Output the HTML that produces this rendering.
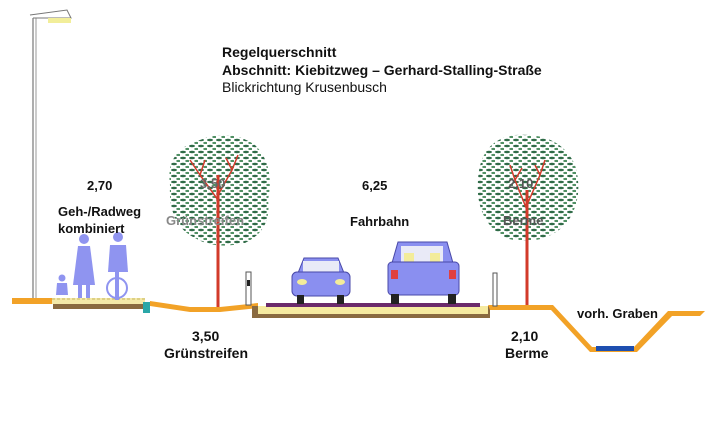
<!DOCTYPE html>
<html><head><meta charset="utf-8"><style>
html,body{margin:0;padding:0;background:#fff;width:720px;height:431px;overflow:hidden}
svg{display:block}
text{font-family:"Liberation Sans",Arial,sans-serif}
</style></head><body>
<svg width="720" height="431" viewBox="0 0 720 431" xmlns="http://www.w3.org/2000/svg">
<defs>
<pattern id="lv" width="9" height="6" patternUnits="userSpaceOnUse">
<rect x="0" y="0" width="9" height="6" fill="#fff"/>
<ellipse cx="3" cy="2" rx="3" ry="1.3" fill="#2f6b47"/>
<ellipse cx="7.5" cy="5" rx="2.3" ry="1.1" fill="#4e8f62"/>
</pattern>
</defs>
<!-- lamp -->
<line x1="33" y1="18" x2="33" y2="298" stroke="#777" stroke-width="1.2"/>
<line x1="36" y1="18" x2="36" y2="298" stroke="#999" stroke-width="1"/>
<polyline points="30,15 67,10 71,18 33,18" fill="none" stroke="#777" stroke-width="1"/>
<rect x="48" y="18" width="23" height="5" fill="#f2ee9a"/>
<!-- titles -->
<text x="222" y="57" font-size="14" font-weight="bold" fill="#111">Regelquerschnitt</text>
<text x="222" y="75" font-size="14" font-weight="bold" fill="#111">Abschnitt: Kiebitzweg – Gerhard-Stalling-Straße</text>
<text x="222" y="92" font-size="14" fill="#111">Blickrichtung Krusenbusch</text>
<!-- trees -->
<path d="M170 185 Q165 150 200 140 Q230 128 255 145 Q275 165 268 200 Q272 230 245 243 Q215 250 195 238 Q168 225 170 185 Z" fill="url(#lv)"/>
<path d="M478 180 Q480 140 515 135 Q560 132 575 165 Q585 200 565 225 Q540 248 505 238 Q475 220 478 180 Z" fill="url(#lv)"/>
<g stroke="#d23a2a" fill="none" stroke-width="1.5">
<line x1="218" y1="175" x2="218" y2="308" stroke-width="3"/>
<path d="M218 200 L200 175 L190 160 M218 195 L232 170 L238 155 M200 175 L205 160 M232 170 L226 158"/>
<line x1="527" y1="190" x2="527" y2="308" stroke-width="3"/>
<path d="M527 210 L515 180 L510 165 M527 205 L540 175 L545 160 M515 180 L522 168 M540 175 L535 165"/>
</g>
<!-- ground left -->
<polygon points="12,298 52,298 52,304 12,304" fill="#f2a227"/>
<rect x="52" y="298" width="93" height="6" fill="#f4e9a8"/>
<line x1="52" y1="299" x2="145" y2="299" stroke="#c9b760" stroke-dasharray="3,2"/>
<rect x="53" y="304" width="92" height="5" fill="#8a6a40"/>
<rect x="143" y="302" width="7" height="11" fill="#2aa7a8"/>
<polygon points="150,301 190,307 220,307 258,303 258,308 220,312 190,312 150,306" fill="#f2a227"/>
<!-- road -->
<rect x="252" y="306" width="238" height="12" fill="#8a6a40"/>
<rect x="258" y="306" width="230" height="8" fill="#f6eaa0"/>
<rect x="266" y="303" width="214" height="4" fill="#6b2a6b"/>
<!-- berm & ditch -->
<polygon points="488,305 553,305 592,347 634,347 668,311 705,311 700,316 672,316 637,352 590,352 551,310 490,310" fill="#f2a227"/>
<rect x="596" y="346" width="38" height="5" fill="#1e4fb0"/>
<!-- posts -->
<rect x="246" y="272" width="5" height="33" fill="#fff" stroke="#555"/>
<rect x="247" y="280" width="3" height="6" fill="#222"/>
<rect x="493" y="273" width="4" height="33" fill="#fff" stroke="#555"/>
<!-- people -->
<g fill="#8f94f0">
<circle cx="84" cy="239" r="5"/><path d="M78 246 L90 246 L95 285 L73 285 Z"/><rect x="78" y="285" width="4" height="13"/><rect x="86" y="285" width="4" height="13"/>
<circle cx="62" cy="278" r="3.5"/><path d="M57 283 L67 283 L68 295 L56 295 Z"/>
<circle cx="118" cy="237" r="5"/><path d="M110 245 L126 245 L128 272 L108 272 Z"/>
<circle cx="117" cy="288" r="10" fill="none" stroke="#8f94f0" stroke-width="2"/><rect x="115" y="270" width="4" height="30"/>
</g>
<!-- left car -->
<g>
<path d="M298 273 L304 258 L338 258 L344 273 Z" fill="#8a8ff0" stroke="#4848a8"/>
<rect x="303" y="261" width="36" height="12" fill="#e9eaf7"/>
<rect x="292" y="272" width="58" height="24" rx="5" fill="#8a8ff0" stroke="#4848a8"/>
<ellipse cx="302" cy="282" rx="5" ry="3" fill="#f3ec9a"/><ellipse cx="340" cy="282" rx="5" ry="3" fill="#f3ec9a"/>
<rect x="297" y="295" width="7" height="9" fill="#222"/><rect x="337" y="295" width="7" height="9" fill="#222"/>
</g>
<!-- right car -->
<g>
<path d="M392 263 L398 242 L447 242 L453 263 Z" fill="#8a8ff0" stroke="#4848a8"/>
<rect x="401" y="246" width="42" height="16" fill="#e9eaf7"/>
<rect x="404" y="253" width="10" height="9" fill="#f3ec9a"/><rect x="430" y="253" width="10" height="9" fill="#f3ec9a"/>
<rect x="388" y="262" width="71" height="33" rx="4" fill="#8a8ff0" stroke="#4848a8"/>
<rect x="391" y="270" width="7" height="9" fill="#e04040"/><rect x="449" y="270" width="7" height="9" fill="#e04040"/>
<rect x="391" y="294" width="8" height="10" fill="#222"/><rect x="448" y="294" width="8" height="10" fill="#222"/>
</g>
<!-- labels -->
<g font-weight="bold" fill="#111" font-size="13">
<text x="87" y="190">2,70</text>
<text x="58" y="216">Geh-/Radweg</text>
<text x="58" y="233">kombiniert</text>
<text x="200" y="188" fill="#666">3,50</text>
<text x="166" y="225" fill="#888">Grünstreifen</text>
<text x="362" y="190">6,25</text>
<text x="350" y="226">Fahrbahn</text>
<text x="508" y="188" fill="#555">2,10</text>
<text x="503" y="225" fill="#555">Berme</text>
<text x="577" y="318">vorh. Graben</text>
<text x="192" y="341" font-size="14">3,50</text>
<text x="164" y="358" font-size="14">Grünstreifen</text>
<text x="511" y="341" font-size="14">2,10</text>
<text x="505" y="358" font-size="14">Berme</text>
</g>
</svg>
</body></html>
